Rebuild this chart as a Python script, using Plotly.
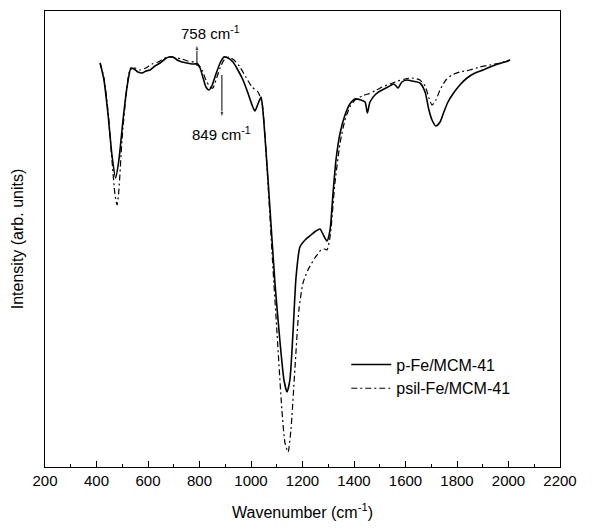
import plotly.graph_objects as go

# p-Fe/MCM-41 (solid)
wn_p = [414, 429, 445, 460, 474, 487, 503, 518, 534, 546, 561, 577, 592, 608, 627, 647, 666, 681, 697, 713,
        732, 751, 771, 790, 802, 814, 825, 837, 848, 864, 880, 895, 911, 930, 949, 969, 988, 1004, 1015, 1027,
        1039, 1046, 1058, 1074, 1093, 1113, 1128, 1140, 1151, 1163, 1175, 1190, 1210, 1233, 1252, 1268, 1283,
        1295, 1307, 1318, 1330, 1346, 1365, 1384, 1404, 1427, 1443, 1452, 1462, 1485, 1509, 1532, 1555, 1571,
        1586, 1606, 1625, 1656, 1676, 1691, 1703, 1718, 1734, 1749, 1765, 1784, 1811, 1839, 1870, 1901, 1928,
        1959, 1986, 2006]
int_p = [404, 387, 352, 312, 289, 307, 347, 379, 399, 398, 395, 394, 396, 397, 401, 404, 408, 410, 410, 407,
         405, 404, 403, 403, 399, 389, 380, 377, 381, 393, 404, 410, 409, 405, 397, 387, 374, 362, 356, 363,
         370, 357, 317, 257, 184, 124, 87, 75, 87, 134, 190, 220, 227, 232, 236, 238, 231,
         226, 237, 272, 307, 334, 352, 363, 368, 367, 365, 354, 365, 373, 377, 380, 383, 379,
         385, 387, 386, 384, 375, 357, 347, 341, 345, 355, 365, 373, 382, 389, 394, 397, 400,
         403, 405, 407]

# psil-Fe/MCM-41 (dash-dot)
wn_s = [414, 429, 445, 460, 472, 480, 487, 499, 515, 530, 549, 569, 592, 616, 639, 666, 685, 709, 732, 755,
        779, 794, 810, 825, 841, 852, 864, 880, 895, 915, 934, 957, 980, 1004, 1027, 1043, 1062, 1081, 1101,
        1120, 1132, 1144, 1155, 1171, 1186, 1202, 1221, 1248, 1272, 1287, 1295, 1307, 1326, 1346, 1365, 1384,
        1404, 1431, 1454, 1481, 1509, 1540, 1571, 1598, 1625, 1656, 1676, 1691, 1703, 1718, 1734, 1757, 1780,
        1811, 1850, 1889, 1928, 1967, 2006]
int_s = [404, 389, 355, 307, 272, 262, 277, 327, 372, 397, 399, 397, 399, 403, 405, 409, 410, 409, 408, 406,
         405, 403, 397, 387, 380, 379, 387, 399, 407, 410, 407, 400, 390, 380, 375, 364, 300, 217, 134,
         57, 24, 15, 37, 100, 157, 184, 197, 209, 217, 218, 217, 230, 284, 324, 347, 360,
         367, 371, 373, 376, 380, 383, 386, 388, 389, 387, 381, 369, 362, 367, 377, 387, 392,
         395, 397, 400, 402, 404, 407]

x_ticks = [200, 400, 600, 800, 1000, 1200, 1400, 1600, 1800, 2000, 2200]

# annotation arrows: x, tail intensity, head intensity, label, label position
arrow_x = [790, 887]
arrow_tail = [401, 392]
arrow_head = [423, 349]
arrow_labels = ["758 cm<sup>-1</sup>", "849 cm<sup>-1</sup>"]
label_x = [844, 887]
label_y = [435, 334]

FONT = "Liberation Sans, Arial, Helvetica, sans-serif"

fig = go.Figure()
fig.add_trace(go.Scatter(x=wn_p, y=int_p, mode="lines", name="p-Fe/MCM-41",
                         line=dict(color="black", width=1.6, shape="spline", smoothing=0.6)))
fig.add_trace(go.Scatter(x=wn_s, y=int_s, mode="lines", name="psil-Fe/MCM-41",
                         line=dict(color="black", width=1.2, dash="6px,3px,2px,3px",
                                   shape="spline", smoothing=0.6)))

for xa, tail, head, label, lx, ly in zip(arrow_x, arrow_tail, arrow_head, arrow_labels, label_x, label_y):
    fig.add_trace(go.Scatter(x=[xa, xa], y=[tail, head], mode="lines+markers", showlegend=False,
                             hoverinfo="skip", line=dict(color="black", width=1),
                             marker=dict(symbol="arrow", angleref="previous", size=[0, 7],
                                         color="black")))
    fig.add_annotation(x=lx, y=ly, xref="x", yref="y", text=label, showarrow=False,
                       font=dict(family=FONT, size=15, color="black"))

fig.update_layout(
    width=614, height=531,
    margin=dict(l=45, r=54, t=11, b=64),
    paper_bgcolor="white", plot_bgcolor="white",
    font=dict(family=FONT, size=15, color="black"),
    showlegend=True,
    legend=dict(x=0.585, y=0.262, xanchor="left", yanchor="top", bgcolor="rgba(0,0,0,0)",
                font=dict(family=FONT, size=16, color="black"), itemwidth=40, tracegroupgap=2),
    xaxis=dict(range=[200, 2200], tickvals=x_ticks, ticktext=[str(v) for v in x_ticks],
               ticks="inside", ticklen=6, tickwidth=1, tickcolor="black",
               minor=dict(ticks="inside", ticklen=3, dtick=100, tickcolor="black", tickwidth=1),
               showline=True, linecolor="black", linewidth=1.2, mirror=True, showgrid=False,
               zeroline=False, title=dict(text="Wavenumber (cm<sup>-1</sup>)", standoff=18,
                                          font=dict(family=FONT, size=16)),
               tickfont=dict(family=FONT, size=15)),
    yaxis=dict(range=[0, 456], showticklabels=False, ticks="", showline=True, linecolor="black",
               linewidth=1.2, mirror=True, showgrid=False, zeroline=False,
               title=dict(text="Intensity (arb. units)", standoff=16, font=dict(family=FONT, size=16))),
)

fig.write_html("out.html")
